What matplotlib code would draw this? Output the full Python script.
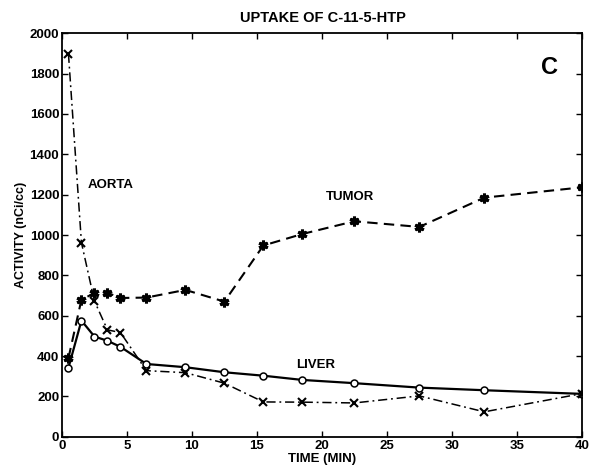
import numpy as np
import matplotlib
matplotlib.use("Agg")
import matplotlib.pyplot as plt

plt.rcParams['font.family'] = ['Liberation Sans', 'DejaVu Sans']

# sampling times (min)
times = [0.5, 1.5, 2.5, 3.5, 4.5, 6.5, 9.5, 12.5, 15.5, 18.5, 22.5, 27.5, 32.5, 40]

# activity (nCi/cc)
tumor = [390, 680, 712, 714, 688, 690, 728, 670, 948, 1005, 1068, 1040, 1185, 1236]
liver = [342, 576, 497, 476, 446, 361, 345, 320, 303, 282, 266, 244, 231, 213]
aorta = [1898, 962, 673, 530, 517, 328, 318, 266, 173, 172, 168, 203, 124, 214]

fig = plt.figure(figsize=(5.9, 4.7), dpi=100)
ax = fig.add_axes([0.105, 0.0705, 0.881, 0.859])

ax.plot(times, tumor, color='black', ls=(0, (5, 3)), lw=1.5,
        marker=(6, 2, 0), ms=7, mew=2.2)
ax.plot(times, liver, color='black', ls='-', lw=1.6,
        marker='o', ms=5, mfc='white', mew=1.1)
ax.plot(times, aorta, color='black', ls=(0, (6, 2.5, 1.2, 2.5)), lw=1.1,
        marker='x', ms=6, mew=1.5)

# series labels
ax.text(2.0, 1250, 'AORTA', fontsize=9.5, fontweight='bold', va='center')
ax.text(20.3, 1190, 'TUMOR', fontsize=9.5, fontweight='bold', va='center')
ax.text(18.0, 358, 'LIVER', fontsize=9.5, fontweight='bold', va='center')
ax.text(37.5, 1830, 'C', fontsize=17, fontweight='bold', va='center', ha='center')

ax.set_xlim(0, 40)
ax.set_ylim(0, 2000)
ax.set_xticks(np.arange(0, 41, 5))
ax.set_yticks(np.arange(0, 2001, 200))
ax.tick_params(direction='in', top=True, right=True, length=4,
               labelsize=9.5, width=1, pad=2)
for lab in ax.get_xticklabels() + ax.get_yticklabels():
    lab.set_fontweight('bold')
for sp in ax.spines.values():
    sp.set_linewidth(1.3)

ax.set_xlabel('TIME (MIN)', fontsize=9.5, fontweight='bold', labelpad=1)
ax.set_ylabel('ACTIVITY (nCi/cc)', fontsize=9, fontweight='bold', labelpad=2)
fig.text(0.548, 0.962, 'UPTAKE OF C-11-5-HTP', fontsize=10.5, fontweight='bold',
         ha='center', va='center')

fig.savefig('out.png', dpi=100)
